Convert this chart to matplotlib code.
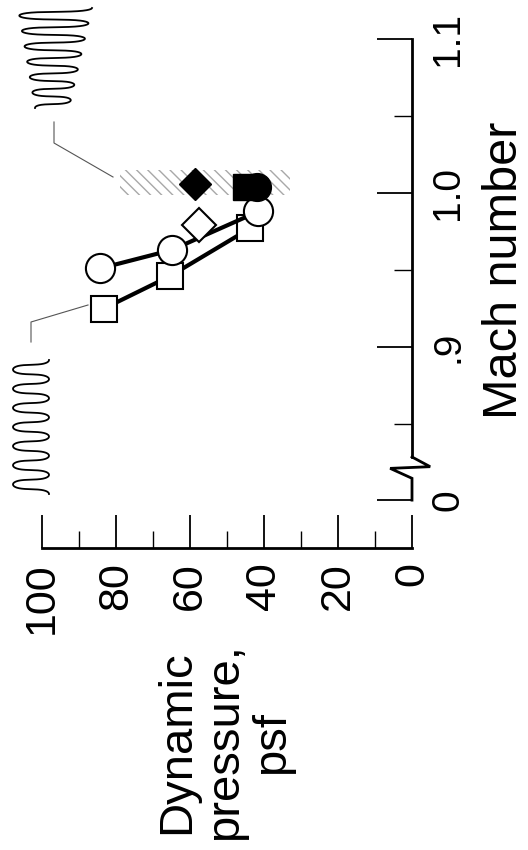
import numpy as np
import matplotlib
matplotlib.use("Agg")
import matplotlib.pyplot as plt
from matplotlib.patches import Rectangle
from matplotlib.lines import Line2D
from matplotlib.ticker import FixedLocator, FixedFormatter

plt.rcParams['font.family'] = ['Liberation Sans', 'DejaVu Sans']

# - data (dynamic pressure in psf, Mach number)
sq_q = [83.2, 65.4, 43.8]
sq_mach = [0.925, 0.946, 0.977]
circ_q = [84.3, 64.9, 41.5]
circ_mach = [0.951, 0.963, 0.988]
dia_q = [57.5]
dia_mach = [0.979]
fdia_q = [58.6]
fdia_mach = [1.006]
fsq_q = [44.9]
fsq_mach = [1.004]
fcirc_q = [41.8]
fcirc_mach = [1.004]
band_q = (33.0, 79.0)
band_mach = (0.999, 1.015)

q_ticks = [0, 20, 40, 60, 80, 100]
q_labels = ["0", "20", "40", "60", "80", "100"]
q_minor = [10, 30, 50, 70, 90]
mach_ticks = [0.0, 0.9, 1.0, 1.1]
mach_labels = ["0", ".9", "1.0", "1.1"]
mach_minor = [0.85, 0.95, 1.05]

# - broken Mach axis: everything below BRK squeezed into a short stub
BRK = 0.82
ZERO_POS = 0.8006


def fwd(m):
    m = np.asarray(m, dtype=float)
    return np.where(m >= BRK, m, ZERO_POS + m * (BRK - ZERO_POS) / BRK)


def inv(t):
    t = np.asarray(t, dtype=float)
    return np.where(t >= BRK, t, (t - ZERO_POS) * BRK / (BRK - ZERO_POS))


W, H = 528, 850
fig = plt.figure(figsize=(W / 100, H / 100), dpi=100)


def fx(x):
    return np.asarray(x, dtype=float) / W


def fy(y):
    return 1 - np.asarray(y, dtype=float) / H


# whole chart is drawn turned a quarter turn: pressure runs right-to-left
ax = fig.add_axes([fx(41.8), fy(548), (412 - 41.8) / W, (548 - 39) / H])
ax.set_xlim(100, 0)
ax.set_yscale("function", functions=(fwd, inv))
ax.set_ylim(float(inv(0.7695)), 1.1)

for s in ("top", "left"):
    ax.spines[s].set_visible(False)
ax.spines["bottom"].set_linewidth(2.0)
ax.spines["right"].set_linewidth(2.0)
ax.spines["bottom"].set_bounds(0, 100)
ax.spines["right"].set_bounds(0.8286, 1.1)

# lower stub of the Mach axis with the break mark
ax.plot([0, -4.9, 5.9, 0, 0], [0.8286, 0.8223, 0.8212, 0.598, 0.0],
        color="black", lw=2.0, clip_on=False, solid_joinstyle="miter")

ax.xaxis.set_major_locator(FixedLocator(q_ticks))
ax.xaxis.set_major_formatter(FixedFormatter(q_labels))
ax.xaxis.set_minor_locator(FixedLocator(q_minor))
ax.yaxis.set_major_locator(FixedLocator(mach_ticks))
ax.yaxis.set_major_formatter(FixedFormatter(mach_labels))
ax.yaxis.set_minor_locator(FixedLocator(mach_minor))
ax.yaxis.set_minor_formatter(FixedFormatter([]))
ax.yaxis.tick_right()

ax.tick_params(axis="x", which="major", direction="in", length=24, width=1.3,
               labelsize=31, pad=10, labelrotation=90)
ax.tick_params(axis="x", which="minor", direction="in", length=12, width=1.0)
ax.tick_params(axis="y", which="major", direction="in", length=25, width=1.3,
               labelsize=28, pad=13, labelrotation=90)
ax.tick_params(axis="y", which="minor", direction="in", length=13, width=1.0)
for lab in ax.get_yticklabels():
    lab.set_va("center")

ax.yaxis.set_label_position("right")
ax.set_ylabel("Mach number", fontsize=35, rotation=90, va="center", ha="center")
ax.yaxis.set_label_coords(1.251, 0.546)

fig.text(fx(225), fy(742), "Dynamic\npressure,\npsf", rotation=90, fontsize=34,
         ha="center", va="center", multialignment="center", linespacing=1.1)

# hatched band near M = 1
ax.add_patch(Rectangle((band_q[0], band_mach[0]), band_q[1] - band_q[0],
                       band_mach[1] - band_mach[0], facecolor="none",
                       edgecolor="#a8a8a8", linewidth=0, hatch="\\\\\\", zorder=1))

ax.plot(sq_q, sq_mach, color="black", lw=3, marker="s", ms=19, mfc="white",
        mec="black", mew=1.5, zorder=3)
ax.plot(circ_q, circ_mach, color="black", lw=3, marker="o", ms=21, mfc="white",
        mec="black", mew=1.5, zorder=3)
ax.plot(dia_q, dia_mach, ls="none", marker="D", ms=17, mfc="white", mec="black",
        mew=1.5, zorder=4)
ax.plot(fdia_q, fdia_mach, ls="none", marker="D", ms=16.5, mfc="black",
        mec="black", zorder=4)
ax.plot(fcirc_q, fcirc_mach, ls="none", marker="o", ms=20, mfc="black",
        mec="black", zorder=4)
ax.plot(fsq_q, fsq_mach, ls="none", marker="s", ms=19, mfc="black",
        mec="black", zorder=4)


# scribbled-out callout labels (rounded coil shape) with leader lines
def squiggle(y0, y1, c0, c1, a0, a1, cycles):
    th = np.linspace(0, 2 * np.pi * cycles, 1500)
    t = th / th[-1]
    period = (y1 - y0) / cycles
    y = y0 + (y1 - y0) * t + 0.065 * period * np.sin(2 * th)
    x = (c0 + (c1 - c0) * t) + (a0 + (a1 - a0) * t) * np.cos(th)
    fig.add_artist(Line2D(fx(x), fy(y), color="black", lw=1.3))


def leader(xs, ys):
    fig.add_artist(Line2D(fx(xs), fy(ys), color="#555555", lw=0.8))


squiggle(8, 108, 55, 52, 37, 17, 6.5)
leader([54, 54, 113], [122, 143, 177])
squiggle(360, 494, 31, 31, 18, 18, 7)
leader([31, 31, 88], [342, 322, 305])

fig.savefig("out.png", dpi=100, facecolor="white")
